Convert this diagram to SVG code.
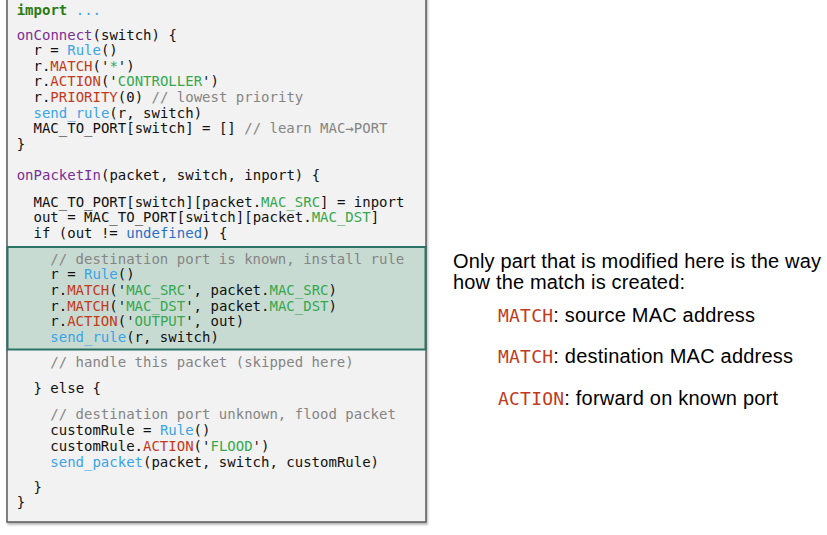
<svg xmlns="http://www.w3.org/2000/svg" width="827" height="535" viewBox="0 0 827 535">
<style>
.code{font-family:"DejaVu Sans Mono","Liberation Mono",monospace;font-size:14px;fill:#111;white-space:pre}
.kw{fill:#2b7a12;font-weight:bold}
.fn{fill:#7a2f93}
.bl{fill:#3aa4e8}
.rd{fill:#c23a1c}
.st{fill:#36a84e}
.cm{fill:#858585}
.ud{fill:#2a6fc6}
.note{font-family:"Liberation Sans",Arial,sans-serif;font-size:20px;fill:#000}
.mono{font-family:"DejaVu Sans Mono","Liberation Mono",monospace;font-size:18px;fill:#c23a1c}
</style>
<defs>
<filter id="sh" x="-5%" y="-5%" width="110%" height="110%"><feDropShadow dx="1" dy="2" stdDeviation="1.2" flood-color="#000" flood-opacity="0.3"/></filter>
</defs>
<g id="codebox">
<rect x="7" y="-5" width="419" height="527" fill="#f2f2f2" stroke="#5a5a5a" stroke-width="1.5" filter="url(#sh)"/>
</g>
<g id="highlight">
<rect x="7.5" y="247" width="418" height="102.5" fill="#c8dbd2" stroke="#2b7364" stroke-width="2"/>
</g>
<g id="code">
<text class="code" x="16.7" y="15"><tspan class="kw">import</tspan> <tspan class="bl">...</tspan></text>
<text class="code" x="16.7" y="39.5"><tspan class="fn">onConnect</tspan>(switch) {</text>
<text class="code" x="33.5" y="55">r = <tspan class="bl">Rule</tspan>()</text>
<text class="code" x="33.5" y="70.7">r.<tspan class="rd">MATCH</tspan>('<tspan class="st">*</tspan>')</text>
<text class="code" x="33.5" y="86.3">r.<tspan class="rd">ACTION</tspan>('<tspan class="st">CONTROLLER</tspan>')</text>
<text class="code" x="33.5" y="101.9">r.<tspan class="rd">PRIORITY</tspan>(0) <tspan class="cm">// lowest priority</tspan></text>
<text class="code" x="33.5" y="117.5"><tspan class="bl">send_rule</tspan>(r, switch)</text>
<text class="code" x="33.5" y="133.1">MAC_TO_PORT[switch] = [] <tspan class="cm">// learn MAC→PORT</tspan></text>
<text class="code" x="16.7" y="148.7">}</text>
<text class="code" x="16.7" y="180"><tspan class="fn">onPacketIn</tspan>(packet, switch, inport) {</text>
<text class="code" x="33.5" y="206.8">MAC_TO_PORT[switch][packet.<tspan class="st">MAC_SRC</tspan>] = inport</text>
<text class="code" x="33.5" y="222.3">out = MAC_TO_PORT[switch][packet.<tspan class="st">MAC_DST</tspan>]</text>
<text class="code" x="33.5" y="237.8">if (out != <tspan class="ud">undefined</tspan>) {</text>
<text class="code" x="50.3" y="263.5"><tspan class="cm">// destination port is known, install rule</tspan></text>
<text class="code" x="50.3" y="279.3">r = <tspan class="bl">Rule</tspan>()</text>
<text class="code" x="50.3" y="295">r.<tspan class="rd">MATCH</tspan>('<tspan class="st">MAC_SRC</tspan>', packet.<tspan class="st">MAC_SRC</tspan>)</text>
<text class="code" x="50.3" y="310.7">r.<tspan class="rd">MATCH</tspan>('<tspan class="st">MAC_DST</tspan>', packet.<tspan class="st">MAC_DST</tspan>)</text>
<text class="code" x="50.3" y="326.2">r.<tspan class="rd">ACTION</tspan>('<tspan class="st">OUTPUT</tspan>', out)</text>
<text class="code" x="50.3" y="341.8"><tspan class="bl">send_rule</tspan>(r, switch)</text>
<text class="code" x="50.3" y="367"><tspan class="cm">// handle this packet (skipped here)</tspan></text>
<text class="code" x="33.5" y="393.3">} else {</text>
<text class="code" x="50.3" y="419.3"><tspan class="cm">// destination port unknown, flood packet</tspan></text>
<text class="code" x="50.3" y="435">customRule = <tspan class="bl">Rule</tspan>()</text>
<text class="code" x="50.3" y="450.7">customRule.<tspan class="rd">ACTION</tspan>('<tspan class="st">FLOOD</tspan>')</text>
<text class="code" x="50.3" y="466.5"><tspan class="bl">send_packet</tspan>(packet, switch, customRule)</text>
<text class="code" x="33.5" y="491.8">}</text>
<text class="code" x="16.7" y="507">}</text>
</g>
<g id="notes">
<text class="note" x="453" y="268" textLength="368" lengthAdjust="spacing">Only part that is modified here is the way</text>
<text class="note" x="453" y="289" textLength="232" lengthAdjust="spacing">how the match is created:</text>
<text class="note" x="498" y="322" textLength="257" lengthAdjust="spacing"><tspan class="mono">MATCH</tspan>: source MAC address</text>
<text class="note" x="498" y="363" textLength="295" lengthAdjust="spacing"><tspan class="mono">MATCH</tspan>: destination MAC address</text>
<text class="note" x="498" y="405" textLength="280" lengthAdjust="spacing"><tspan class="mono">ACTION</tspan>: forward on known port</text>
</g>
</svg>
